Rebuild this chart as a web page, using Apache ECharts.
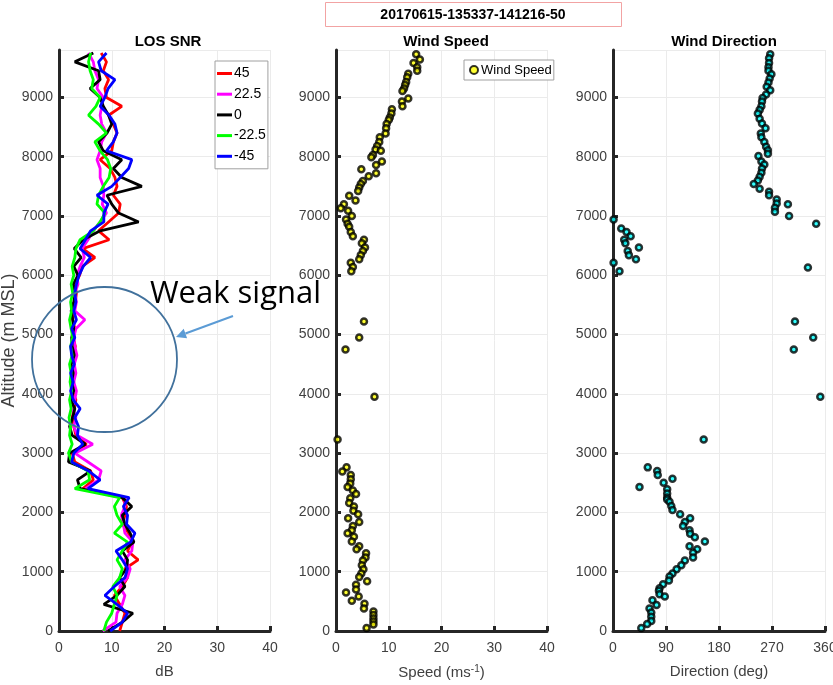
<!DOCTYPE html>
<html>
<head>
<meta charset="utf-8">
<script src="https://cdn.jsdelivr.net/npm/echarts@6/dist/echarts.min.js"></script>
<style>
  html, body { margin: 0; padding: 0; background: #fff; }
  #chart { width: 833px; height: 685px; }
</style>
</head>
<body>
<div id="chart"></div>
<script>
// range gates (m MSL) for the LOS SNR profiles
const gates = [0, 150, 300, 450, 600, 750, 900, 1050, 1200, 1350, 1500, 1650, 1800, 1950, 2100, 2250,
  2400, 2550, 2700, 2850, 3000, 3150, 3300, 3450, 3600, 3750, 3900, 4050, 4200, 4350, 4500, 4650,
  4800, 4950, 5100, 5250, 5400, 5550, 5700, 5850, 6000, 6150, 6300, 6450, 6600, 6750, 6900, 7050,
  7200, 7350, 7500, 7650, 7800, 7950, 8100, 8250, 8400, 8550, 8700, 8850, 9000, 9150, 9300, 9450,
  9600, 9750]

// SNR (dB) per beam elevation
const snr45 = [11.5, 12.0, 12.5, 11.5, 10.5, 12.0, 13.0, 12.5, 15.0, 13.0, 13.8, 13.2, 12.0, 12.5, 12.8, 12.0,
  4.5, 6.5, 6.0, 3.0, 2.5, 5.2, 3.2, 2.8, 2.5, 2.9, 3.2, 2.5, 2.8, 2.6, 2.9, 2.5,
  3.1, 2.7, 3.0, 2.6, 2.9, 3.1, 3.3, 3.0, 3.9, 4.4, 6.8, 4.5, 9.5, 7.5, 9.4, 11.3,
  11.6, 10.3, 11.0, 10.6, 9.7, 7.8, 10.0, 10.3, 11.0, 10.3, 9.4, 11.9, 9.0, 8.7, 9.4, 8.4,
  9.0, 8.0]
const snr22 = [8.3, 10.8, 11.0, 12.0, 12.5, 11.5, 13.0, 13.5, 12.5, 13.8, 14.0, 12.5, 12.2, 11.8, 12.5, 12.5,
  5.0, 7.5, 8.0, 5.5, 3.0, 6.4, 3.5, 2.8, 3.2, 2.6, 3.0, 3.3, 2.8, 3.2, 2.9, 3.4,
  3.0, 2.8, 3.2, 4.9, 3.0, 3.3, 3.0, 3.6, 3.4, 4.0, 4.8, 4.4, 5.5, 6.5, 7.8, 9.0,
  8.2, 8.5, 8.4, 7.8, 7.8, 7.2, 7.8, 8.1, 9.0, 8.1, 7.8, 8.1, 8.4, 7.2, 7.5, 6.8,
  6.5, 5.6]
const snr0 = [9.3, 12.0, 14.0, 8.5, 11.0, 12.5, 11.5, 12.8, 13.0, 12.0, 14.2, 13.5, 12.5, 12.0, 13.8, 12.0,
  4.0, 3.5, 6.0, 1.8, 2.0, 5.0, 2.5, 2.0, 2.6, 3.0, 2.2, 2.8, 2.4, 2.7, 2.3, 2.9,
  2.5, 2.4, 2.8, 2.6, 2.3, 2.8, 3.1, 2.7, 3.6, 2.8, 4.2, 2.9, 4.6, 7.8, 15.1, 11.3,
  10.0, 9.1, 15.7, 11.9, 10.3, 11.9, 8.4, 7.5, 9.1, 10.0, 9.4, 8.4, 7.8, 5.9, 7.8, 7.5,
  3.0, 6.5]
const snrM22 = [8.5, 9.0, 10.0, 10.5, 11.0, 10.2, 11.5, 12.0, 11.0, 12.0, 13.0, 10.5, 12.0, 11.0, 10.5, 11.5,
  3.0, 5.8, 5.5, 2.4, 1.8, 2.5, 2.0, 2.2, 1.9, 2.3, 2.0, 2.4, 2.1, 2.3, 2.0, 2.5,
  2.2, 2.6, 2.3, 2.0, 2.4, 2.2, 2.6, 2.3, 2.8, 2.5, 3.0, 3.2, 4.0, 6.5, 7.8, 8.7,
  7.2, 7.5, 8.4, 9.5, 9.8, 9.2, 7.8, 6.8, 9.0, 7.5, 5.6, 7.0, 7.8, 6.2, 6.5, 5.9,
  5.6, 6.0]
const snrM45 = [9.7, 12.0, 13.0, 11.0, 8.7, 10.5, 12.5, 13.0, 12.0, 10.8, 13.6, 14.4, 12.8, 13.0, 12.2, 13.3,
  5.5, 7.8, 5.6, 2.4, 2.8, 4.5, 3.5, 3.7, 3.0, 4.0, 2.7, 2.2, 2.7, 2.2, 2.9, 2.4,
  2.2, 3.0, 2.4, 3.3, 2.8, 3.2, 3.0, 3.3, 3.8, 4.6, 6.0, 4.0, 5.0, 6.0, 8.5, 8.5,
  9.3, 7.2, 10.0, 11.6, 13.2, 13.8, 9.0, 10.3, 11.0, 10.6, 9.5, 7.8, 8.7, 9.3, 10.6, 8.0,
  7.5, 9.0]

// wind speed (m/s) retrievals
const speedAlt = [9730, 9640, 9580, 9510, 9450, 9400, 9340, 9260, 9210, 9150,
  9110, 8980, 8930, 8850, 8800, 8730, 8660, 8620, 8550, 8480,
  8390, 8330, 8250, 8180, 8120, 8100, 8030, 7990, 7920, 7860,
  7790, 7720, 7670, 7590, 7540, 7480, 7420, 7340, 7260, 7200,
  7130, 7090, 7000, 6940, 6870, 6820, 6730, 6660, 6600, 6540,
  6470, 6410, 6340, 6270, 6210, 6140, 6070, 5220, 4950, 4750,
  3950, 3230, 2760, 2690, 2630, 2560, 2490, 2430, 2370, 2310,
  2240, 2160, 2100, 2030, 1970, 1900, 1840, 1770, 1700, 1650,
  1590, 1510, 1430, 1380, 1310, 1240, 1190, 1110, 1040, 970,
  910, 840, 780, 700, 650, 580, 510, 460, 380, 330,
  270, 210, 160, 110, 50]
const speedVal = [15.2, 15.9, 14.7, 15.4, 15.4, 13.7, 13.5, 13.3, 13.1, 12.9,
  12.6, 13.7, 12.5, 12.6, 10.6, 10.5, 10.2, 10.0, 9.6, 9.5,
  9.4, 8.3, 8.2, 7.8, 7.5, 8.5, 7.0, 6.7, 8.7, 7.6,
  4.8, 7.6, 6.2, 5.1, 4.7, 4.4, 4.2, 2.5, 3.7, 1.5,
  0.9, 2.3, 3.0, 1.9, 2.2, 2.5, 2.8, 3.2, 5.3, 4.9,
  5.5, 5.1, 4.7, 4.4, 2.8, 3.2, 2.9, 5.3, 4.4, 1.8,
  7.3, 0.3, 2.0, 1.2, 2.8, 2.8, 2.7, 2.2, 3.2, 3.8,
  2.7, 2.5, 3.4, 3.3, 4.2, 2.3, 4.4, 3.2, 3.0, 2.2,
  3.4, 3.0, 4.4, 3.9, 5.7, 5.6, 5.1, 4.9, 5.2, 4.8,
  4.4, 5.9, 3.8, 3.8, 1.9, 4.3, 3.0, 5.4, 5.3, 7.1,
  7.1, 7.1, 7.1, 7.1, 5.8]

// wind direction (deg) retrievals
const dirAlt = [9730, 9660, 9580, 9510, 9450, 9390, 9320, 9250, 9180, 9120,
  9050, 8990, 8930, 8850, 8790, 8730, 8640, 8560, 8480, 8390,
  8330, 8250, 8170, 8110, 8050, 8010, 7920, 7870, 7800, 7730,
  7660, 7600, 7540, 7460, 7410, 7350, 7280, 7210, 7200, 7140,
  7070, 7000, 6940, 6870, 6790, 6730, 6660, 6600, 6540, 6470,
  6410, 6340, 6270, 6210, 6130, 6070, 5220, 4950, 4750, 3950,
  3230, 2760, 2700, 2630, 2570, 2500, 2430, 2390, 2320, 2250,
  2220, 2180, 2110, 2040, 1970, 1900, 1840, 1770, 1700, 1640,
  1580, 1510, 1430, 1380, 1320, 1240, 1190, 1110, 1040, 970,
  920, 850, 790, 720, 680, 620, 580, 520, 440, 380,
  310, 240, 170, 120, 50]
const dirVal = [267, 265, 265, 264, 264, 269, 266, 264, 261, 267,
  260, 254, 253, 252, 249, 246, 249, 253, 259, 251,
  252, 257, 260, 263, 263, 247, 252, 257, 253, 252,
  249, 246, 239, 249, 265, 265, 278, 278, 297, 275,
  275, 299, 1, 345, 14, 23, 30, 19, 21, 44,
  25, 27, 39, 1, 331, 11, 309, 340, 307, 352,
  154, 59, 75, 76, 101, 86, 45, 92, 92, 92,
  92, 96, 99, 101, 114, 131, 122, 119, 130, 131,
  139, 156, 130, 143, 136, 136, 122, 116, 108, 101,
  96, 95, 85, 79, 78, 79, 88, 67, 74, 62,
  65, 65, 65, 58, 48]

const beams = [
  { name: '45', values: snr45, color: '#ff0000' },
  { name: '22.5', values: snr22, color: '#ff00ff' },
  { name: '0', values: snr0, color: '#000000' },
  { name: '-22.5', values: snrM22, color: '#00ff00' },
  { name: '-45', values: snrM45, color: '#0000ff' }
]

const sans = "'Liberation Sans', Arial, sans-serif"
const axisDark = '#262626'
const labelGray = '#404040'

function xAxisFor(gridIndex, max, interval, name, nameStyle) {
  return {
    type: 'value',
    gridIndex,
    min: 0,
    max,
    interval,
    name,
    nameLocation: 'middle',
    nameGap: 33,
    nameTextStyle: Object.assign({ color: labelGray, fontSize: 15, fontFamily: sans }, nameStyle || {}),
    axisLine: { onZero: false, lineStyle: { color: axisDark, width: 3 } },
    axisTick: { inside: true, length: 5, lineStyle: { color: axisDark, width: 3 } },
    axisLabel: { color: labelGray, fontSize: 14, fontFamily: sans, margin: 10, formatter: (v) => String(v) },
    splitLine: { show: true, lineStyle: { color: '#ebebeb', width: 1 } }
  }
}

function yAxisFor(gridIndex, name) {
  return {
    type: 'value',
    gridIndex,
    min: 0,
    max: 9800,
    interval: 1000,
    name: name || '',
    nameLocation: 'middle',
    nameRotate: 90,
    nameGap: 32,
    nameTextStyle: { color: labelGray, fontSize: 18, fontFamily: sans },
    axisLine: { onZero: false, lineStyle: { color: axisDark, width: 3 } },
    axisTick: { inside: true, length: 5, lineStyle: { color: axisDark, width: 3 } },
    axisLabel: { color: labelGray, fontSize: 14, fontFamily: sans, margin: 6, showMaxLabel: false,
      formatter: (v) => String(v) },
    splitLine: { show: true, lineStyle: { color: '#ebebeb', width: 1 } }
  }
}

const chart = echarts.init(document.getElementById('chart'))

const titleStyle = { fontSize: 15, fontWeight: 'bold', color: '#000', fontFamily: sans }

chart.setOption({
  animation: false,
  backgroundColor: '#ffffff',
  title: [
    { text: 'LOS SNR', left: 163, top: 29, textAlign: 'center', textStyle: titleStyle },
    { text: 'Wind Speed', left: 441, top: 29, textAlign: 'center', textStyle: titleStyle },
    { text: 'Wind Direction', left: 719, top: 29, textAlign: 'center', textStyle: titleStyle }
  ],
  grid: [
    { left: 59, top: 50, width: 211, height: 581, outerBoundsMode: 'none', containLabel: false },
    { left: 336, top: 50, width: 211, height: 581, outerBoundsMode: 'none', containLabel: false },
    { left: 613, top: 50, width: 212, height: 581, outerBoundsMode: 'none', containLabel: false }
  ],
  xAxis: [
    xAxisFor(0, 40, 10, 'dB'),
    xAxisFor(1, 40, 10, '{a|Speed (ms}{s|-1}{a|)}', {
      rich: {
        a: { fontSize: 15, color: labelGray, fontFamily: sans, lineHeight: 18 },
        s: { fontSize: 10, color: labelGray, fontFamily: sans, verticalAlign: 'top', lineHeight: 12 }
      }
    }),
    xAxisFor(2, 360, 90, 'Direction (deg)')
  ],
  yAxis: [
    yAxisFor(0, 'Altitude (m MSL)'),
    yAxisFor(1),
    yAxisFor(2)
  ],
  legend: [
    {
      data: beams.map((b) => b.name),
      orient: 'vertical',
      left: 215,
      top: 61,
      icon: 'rect',
      itemWidth: 15,
      itemHeight: 3,
      itemGap: 5.7,
      padding: [5, 2, 5, 2],
      backgroundColor: '#fff',
      borderColor: '#a0a0a0',
      borderWidth: 1,
      textStyle: { color: '#000', fontSize: 14, lineHeight: 15, fontFamily: sans, padding: [0, 0, 0, -3] }
    },
    {
      data: ['Wind Speed'],
      left: 464,
      top: 60,
      icon: 'circle',
      itemWidth: 8,
      itemHeight: 8,
      itemGap: 0,
      padding: [3, 2, 3, 5],
      backgroundColor: '#fff',
      borderColor: '#a0a0a0',
      borderWidth: 1,
      textStyle: { color: '#000', fontSize: 13, lineHeight: 14, fontFamily: sans, padding: [0, 0, 0, -2] }
    }
  ],
  series: beams.map((b) => ({
    name: b.name,
    type: 'line',
    xAxisIndex: 0,
    yAxisIndex: 0,
    symbol: 'none',
    color: b.color,
    lineStyle: { color: b.color, width: 2.8 },
    data: gates.map((g, i) => [b.values[i], g])
  })).concat([
    {
      name: 'Wind Speed',
      type: 'scatter',
      xAxisIndex: 1,
      yAxisIndex: 1,
      symbolSize: 6,
      itemStyle: { color: '#ffff00', borderColor: '#000', borderWidth: 2.5 },
      data: speedVal.map((v, i) => [v, speedAlt[i]])
    },
    {
      name: 'Wind Direction',
      type: 'scatter',
      xAxisIndex: 2,
      yAxisIndex: 2,
      symbolSize: 6,
      itemStyle: { color: '#00ffff', borderColor: '#000', borderWidth: 2.5 },
      data: dirVal.map((v, i) => [v, dirAlt[i]])
    }
  ]),
  graphic: [
    {
      type: 'rect',
      z: 100,
      shape: { x: 325.5, y: 2.5, width: 296, height: 24 },
      style: { fill: 'none', stroke: '#f2a3a3', lineWidth: 1 }
    },
    {
      type: 'text',
      z: 100,
      x: 473,
      y: 15,
      style: {
        text: '20170615-135337-141216-50',
        font: 'bold 14px ' + sans,
        fill: '#000',
        align: 'center',
        verticalAlign: 'middle'
      }
    },
    {
      type: 'circle',
      z: 100,
      shape: { cx: 104.5, cy: 359.5, r: 72.5 },
      style: { fill: 'none', stroke: '#41719c', lineWidth: 1.8 }
    },
    {
      type: 'text',
      z: 100,
      x: 150,
      y: 279,
      style: {
        text: 'Weak signal',
        font: "31px 'Open Sans', sans-serif",
        fill: '#000',
        align: 'left',
        verticalAlign: 'top'
      }
    },
    {
      type: 'line',
      z: 100,
      shape: { x1: 233, y1: 316, x2: 185.4, y2: 333.5 },
      style: { stroke: '#5b9bd5', lineWidth: 2 }
    },
    {
      type: 'polygon',
      z: 100,
      shape: { points: [[176, 337], [187.1, 338.2], [183.7, 328.8]] },
      style: { fill: '#5b9bd5' }
    }
  ]
})
</script>
</body>
</html>
